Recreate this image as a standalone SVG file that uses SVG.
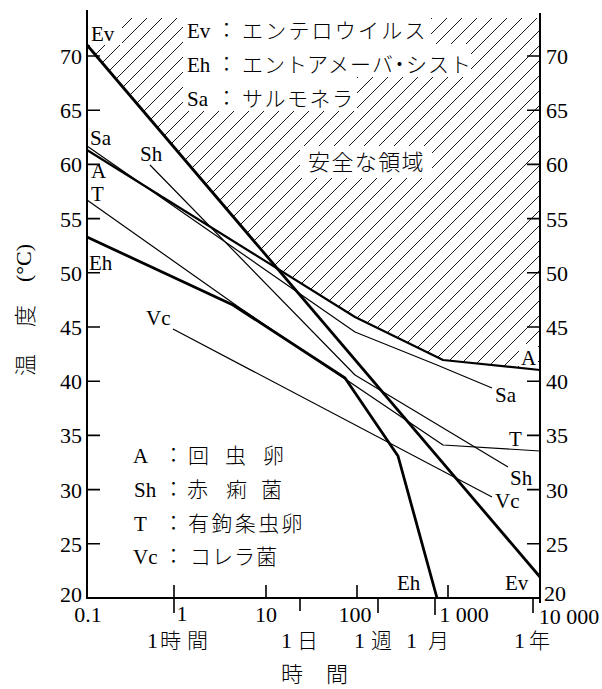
<svg xmlns="http://www.w3.org/2000/svg" width="602" height="689" viewBox="0 0 602 689">
<style>
.num{font-family:"Liberation Serif","Times New Roman",serif;font-size:22px;fill:#000}
.lat{font-family:"Liberation Serif","Times New Roman",serif;font-size:21px;fill:#000}
.jp{font-family:"Noto Sans CJK JP","Noto Sans CJK SC",sans-serif;font-size:21px;font-weight:300;fill:#000}
.ax{stroke:#000;stroke-width:2;fill:none}
.tk{stroke:#000;stroke-width:1.6;fill:none}
.thick{stroke:#000;stroke-width:2.8;fill:none;stroke-linejoin:round}
.mid{stroke:#000;stroke-width:2.2;fill:none;stroke-linejoin:round}
.thin{stroke:#000;stroke-width:1.2;fill:none;stroke-linejoin:round}
.ko{fill:#fff}
</style>
<defs>
<pattern id="hatch" patternUnits="userSpaceOnUse" width="15" height="15">
<path d="M-1,1 l2,-2 M0,15 l15,-15 M14,16 l2,-2" stroke="#000" stroke-width="0.9"/>
</pattern>
</defs>
<rect width="602" height="689" fill="#fff"/>

<g id="safe-zone">
<path d="M87,18 L540,18 L540,370 L443,360 L355,317 L277.5,268.7 L87,45 Z" fill="url(#hatch)"/>
<rect class="ko" x="88" y="17" width="34" height="28"/>
<rect class="ko" x="183" y="14" width="248" height="30"/>
<rect class="ko" x="183" y="44" width="288" height="33"/>
<rect class="ko" x="183" y="77" width="174" height="34"/>
<rect class="ko" x="300" y="146" width="132" height="32"/>
<rect class="ko" x="519" y="344" width="19" height="24"/>
</g>

<g id="axes">
<path class="ax" d="M87,10 L87,598 L540,598 M540,13 L540,603"/>
<path class="tk" d="M87,543.8 h13 M87,489.6 h13 M87,435.4 h13 M87,381.2 h13 M87,327 h13 M87,272.8 h13 M87,218.6 h13 M87,164.4 h13 M87,110.2 h13 M87,56 h13"/>
<path class="tk" d="M540,543.8 h-13 M540,489.6 h-13 M540,435.4 h-13 M540,381.2 h-13 M540,327 h-13 M540,272.8 h-13 M540,218.6 h-13 M540,164.4 h-13 M540,110.2 h-13 M540,56 h-13"/>
<path class="tk" d="M174,585 V613 M266,585 V598 M357,585 V598 M448,585 V598 M300,598 V611 M378,598 V613 M435,598 V615 M533,598 V613"/>
</g>

<g id="y-labels-left" class="num" text-anchor="end">
<text x="82" y="602">20</text>
<text x="82" y="551.8">25</text>
<text x="82" y="497.6">30</text>
<text x="82" y="443.4">35</text>
<text x="82" y="389.2">40</text>
<text x="82" y="335">45</text>
<text x="82" y="280.8">50</text>
<text x="82" y="226.6">55</text>
<text x="82" y="172.4">60</text>
<text x="82" y="118.2">65</text>
<text x="82" y="64">70</text>
</g>
<g id="y-labels-right" class="num">
<text x="544" y="601">20</text>
<text x="546" y="551.8">25</text>
<text x="546" y="497.6">30</text>
<text x="546" y="443.4">35</text>
<text x="546" y="389.2">40</text>
<text x="546" y="335">45</text>
<text x="546" y="280.8">50</text>
<text x="546" y="226.6">55</text>
<text x="546" y="172.4">60</text>
<text x="546" y="118.2">65</text>
<text x="546" y="64">70</text>
</g>

<g id="x-labels" class="num" text-anchor="middle">
<text x="88" y="622">0.1</text>
<text x="182" y="621">1</text>
<text x="266" y="622">10</text>
<text x="355" y="622">100</text>
<text x="464" y="622">1 000</text>
<text x="569" y="624">10 000</text>
</g>
<g id="time-labels">
<text class="num" x="147" y="648">1</text><text class="jp" x="160 187" y="648">時間</text>
<text class="num" x="281" y="648">1</text><text class="jp" x="297" y="648">日</text>
<text class="num" x="354" y="648">1</text><text class="jp" x="371" y="648">週</text>
<text class="num" x="406" y="648">1</text><text class="jp" x="428" y="648">月</text>
<text class="num" x="514" y="648">1</text><text class="jp" x="529" y="648">年</text>
<text class="jp" x="281 326" y="682" style="font-size:22px">時間</text>
</g>
<g id="y-title" class="jp" text-anchor="middle" style="font-size:22px">
<text transform="translate(33,365) rotate(-90)">温</text>
<text transform="translate(33,316) rotate(-90)">度</text>
<text class="lat" style="font-size:22px" transform="translate(31,263) rotate(-90)">(°C)</text>
</g>

<g id="curves">
<path id="Ev" class="thick" d="M87,45 L540,577"/>
<path id="A" class="mid" d="M87,150 L355,317 L443,360 L540,370"/>
<path id="Sa" class="thin" d="M87,146 L355,332 L437,365 L492,388"/>
<path id="Sh" class="thin" d="M150,165 L355,375 L508,467"/>
<path id="T" class="thin" d="M87,200 L240,308 L443,445 L540,451"/>
<path id="Eh" class="thick" d="M87,237 L233,305 L345,378 L398,456 L437,598"/>
<path id="Vc" class="thin" d="M173,329 L492,497"/>
</g>

<g id="curve-labels" class="lat">
<text x="91" y="41">Ev</text>
<text x="90" y="145">Sa</text>
<text x="91" y="178">A</text>
<text x="91" y="201">T</text>
<text x="89" y="270">Eh</text>
<text x="140" y="161">Sh</text>
<text x="146" y="325">Vc</text>
<text x="521" y="365">A</text>
<text x="495" y="402">Sa</text>
<text x="509" y="446">T</text>
<text x="510" y="485">Sh</text>
<text x="495" y="508">Vc</text>
<text x="397" y="590">Eh</text>
<text x="505" y="590">Ev</text>
</g>

<g id="legend-top">
<text class="lat" x="187" y="38">Ev</text><text class="jp" x="216" y="37">：</text>
<text class="jp" x="242 265.2 288.4 311.6 334.8 358 381.2 404.4" y="38">エンテロウイルス</text>
<text class="lat" x="187" y="72">Eh</text><text class="jp" x="216" y="71">：</text>
<text class="jp" x="242 264 286 307 328 350 372 389 406 428 450" y="72">エントアメーバ・シスト</text>
<text class="lat" x="187" y="106">Sa</text><text class="jp" x="216" y="105">：</text>
<text class="jp" x="242 264.5 287 309.5 332" y="106">サルモネラ</text>
<text class="jp" x="308 331.4 354.8 378.2 401.6" y="170" style="font-size:22px">安全な領域</text>
</g>

<g id="legend-bottom">
<text class="lat" x="133" y="463">A</text><text class="jp" x="163" y="462">：</text>
<text class="jp" x="188 225 263" y="463">回虫卵</text>
<text class="lat" x="134" y="497">Sh</text><text class="jp" x="163" y="496">：</text>
<text class="jp" x="187 226 261" y="497">赤痢菌</text>
<text class="lat" x="134" y="531">T</text><text class="jp" x="163" y="530">：</text>
<text class="jp" x="188 211.4 234.8 258.2 281.6" y="531">有鉤条虫卵</text>
<text class="lat" x="133" y="564">Vc</text><text class="jp" x="163" y="563">：</text>
<text class="jp" x="190 212 234 256" y="564">コレラ菌</text>
</g>
</svg>
